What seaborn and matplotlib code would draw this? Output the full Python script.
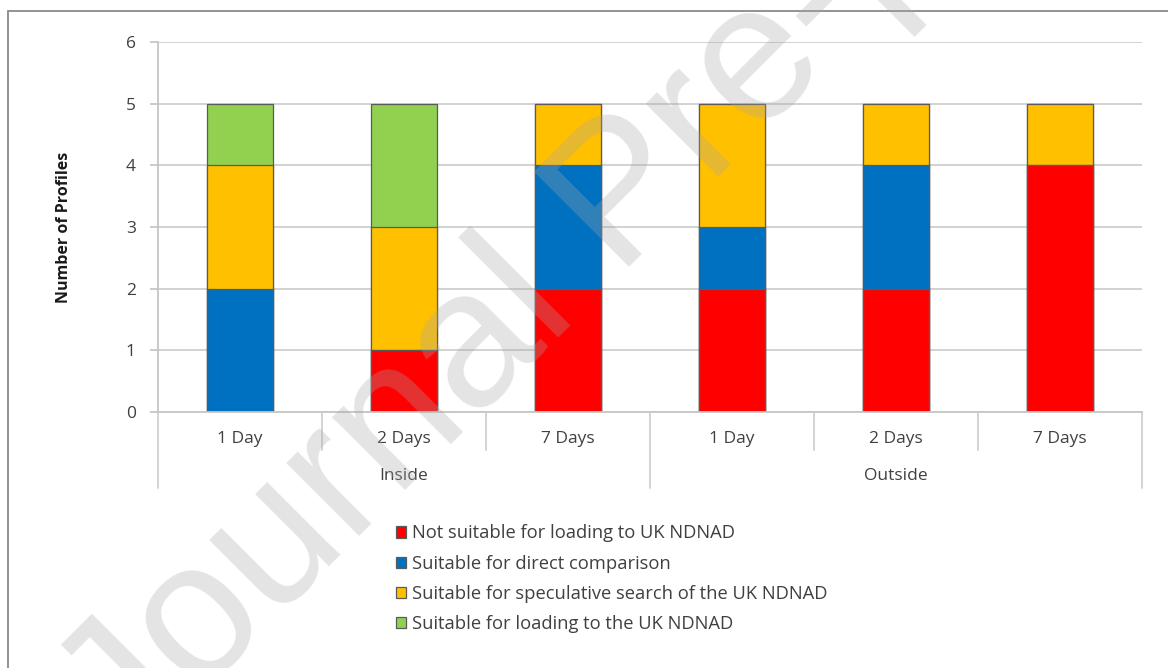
import matplotlib
matplotlib.use("Agg")
import matplotlib.pyplot as plt
import matplotlib.transforms as mtransforms
from matplotlib.patches import Patch, Rectangle
import numpy as np
import seaborn as sns

# ---- data ----
groups = ["Inside", "Inside", "Inside", "Outside", "Outside", "Outside"]
days = ["1 Day", "2 Days", "7 Days", "1 Day", "2 Days", "7 Days"]
not_suitable = [0, 1, 2, 2, 2, 4]
direct = [2, 0, 2, 1, 2, 0]
speculative = [2, 2, 1, 2, 1, 1]
loading = [1, 2, 0, 0, 0, 0]
series_names = [
    "Not suitable for loading to UK NDNAD",
    "Suitable for direct comparison",
    "Suitable for speculative search of the UK NDNAD",
    "Suitable for loading to the UK NDNAD",
]
colors = ["#FF0000", "#0070C0", "#FFC000", "#92D050"]
y_ticks = [0, 1, 2, 3, 4, 5, 6]
y_label = "Number of Profiles"
watermark = "Journal Pre-proof"

sns.set_theme(style="white")
plt.rcParams["font.family"] = ["Open Sans", "DejaVu Sans"]

W, H = 1168, 668
fig = plt.figure(figsize=(W / 100, H / 100), dpi=100)
ax = fig.add_axes([158 / W, 1 - 412 / H, (1142 - 158) / W, 370 / H])

keys = [f"{g} {d}" for g, d in zip(groups, days)]
stack = np.cumsum(np.array([not_suitable, direct, speculative, loading]), axis=0)
for i in reversed(range(len(series_names))):
    sns.barplot(x=keys, y=list(stack[i]), order=keys, color=colors[i], saturation=1,
                width=0.4, edgecolor="#5a5a5a", linewidth=0.9, errorbar=None,
                ax=ax, zorder=2)

ax.set_xlim(-0.5, len(keys) - 0.5)
ax.set_ylim(min(y_ticks), max(y_ticks))
ax.set_yticks(y_ticks)
ax.set_yticklabels([str(t) for t in y_ticks])
ax.set_axisbelow(True)
ax.yaxis.grid(True, color="#cfcfcf", linewidth=1.3)
ax.xaxis.grid(False)
for s in ["top", "right"]:
    ax.spines[s].set_visible(False)
for s in ["left", "bottom"]:
    ax.spines[s].set_color("#c6c6c6")
    ax.spines[s].set_linewidth(1.3)
ax.tick_params(axis="y", which="both", left=True, length=6, width=1.3, color="#c6c6c6",
               labelsize=12.5, labelcolor="#404040", pad=10)
ax.set_xticks(range(len(keys)))
ax.set_xticklabels(days)
ax.tick_params(axis="x", length=0, labelsize=12.5, labelcolor="#404040", pad=14)
ax.set_xlabel("")
ax.set_ylabel(y_label, fontsize=11.5, fontweight="bold", color="#1a1a1a")
ax.yaxis.set_label_coords((72 - 158) / 984, 0.5)

# category separators and group labels
trans = mtransforms.blended_transform_factory(ax.transData, ax.transAxes)
n = len(keys)
for b in range(n + 1):
    pos = b - 0.5
    is_group_edge = b == 0 or b == n or groups[b - 1] != groups[b]
    y_end = -0.205 if is_group_edge else -0.103
    ax.plot([pos, pos], [0, y_end], transform=trans, color="#d0d0d0", lw=1.3,
            clip_on=False, zorder=1)
for g in dict.fromkeys(groups):
    idx = [i for i, gg in enumerate(groups) if gg == g]
    ax.text(np.mean(idx), -0.174, g, transform=trans, ha="center", va="center",
            fontsize=12.5, color="#404040")

# legend
handles = [Patch(facecolor=c, edgecolor="#5a5a5a", linewidth=0.9) for c in colors]
fig.legend(handles, series_names, loc="upper left", bbox_to_anchor=(379 / W, 1 - 508 / H),
           frameon=False, fontsize=13.2, handlelength=0.55, handleheight=0.55,
           handletextpad=0.33, labelspacing=0.67, labelcolor="#404040")

# border
fig.add_artist(Rectangle((8 / W, -0.1), 1.2, 1 - 11 / H + 0.1, transform=fig.transFigure,
                         fill=False, edgecolor="#8a8a8a", linewidth=1.3))

# watermark
fig.text(129 / W, 1 - 767 / H, watermark, rotation=45, rotation_mode="anchor",
         ha="left", va="baseline", fontsize=140, family="Liberation Sans",
         color="#a6a6a6", alpha=0.3, zorder=10)

fig.savefig("out.png", dpi=100)
